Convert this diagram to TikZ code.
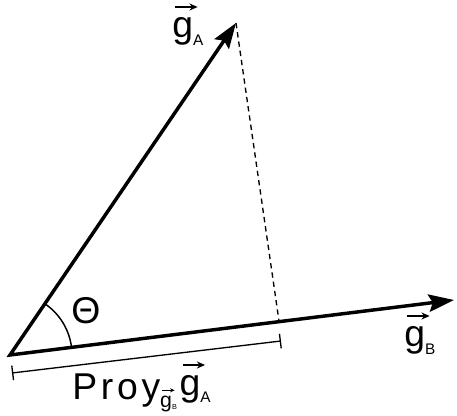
\documentclass[tikz,border=0pt]{standalone}
\usepackage{fontspec}
\setmainfont{Liberation Sans}
\usetikzlibrary{arrows.meta,calc}
\newcommand{\vg}{\leavevmode\rlap{\tikz[overlay,x=1em,y=1em]
  \draw[-{Stealth[length=.22em,width=.19em]},line width=.045em] (.08,.83) -- (.68,.83);}g}
\tikzset{
  vect/.style={{Stealth[length=19pt,width=13pt,inset=3pt]}-{Stealth[length=19pt,width=13pt,inset=3pt]},
               line width=2.6pt},
  proj/.style={line width=1pt,dash pattern=on 4pt off 3pt},
  ang/.style={line width=1.1pt},
  measure/.style={{Bar[width=11pt]}-{Bar[width=11pt]},line width=1pt},
  lbl/.style={inner sep=0pt,font=\fontsize{28}{30}\selectfont},
}
\begin{document}
\begin{tikzpicture}[x=0.75pt,y=0.75pt]
  \useasboundingbox (0,0) rectangle (457,416);
  % --- points
  \coordinate (orig) at (10,61);
  \coordinate (tipA) at (236,393);
  \coordinate (tipB) at (454,116);
  \coordinate (foot) at (279,95);
  \coordinate (mL) at (12,43);
  \coordinate (mR) at (281,75);
  % --- vectors and projection
  \draw[vect] (tipA) -- (orig) -- (tipB);
  \draw[proj] (tipA) -- (foot);
  \draw[ang] ($(orig)+(7.06:62)$) arc[start angle=7.06,end angle=55.75,radius=62];
  \draw[measure] (mL) -- (mR);
  % --- labels
  \node[lbl,anchor=base west] (labA) at (172,378) {\vg\raisebox{-6pt}{\fontsize{11.5}{12}\selectfont A}};
  \node[lbl,anchor=base west] (labB) at (404,69) {\vg\raisebox{-6pt}{\fontsize{11.5}{12}\selectfont B}};
  \node[lbl] (theta) at (86,105.5) {Θ};
  \node[lbl,anchor=base west] (labProy) at (72,16)
    {{\addfontfeature{LetterSpace=10}Proy}\raisebox{-6pt}{\fontsize{16}{16}\selectfont\vg}%
     \raisebox{-7pt}{\fontsize{5.5}{6}\selectfont B}\kern2pt\raisebox{3pt}{\vg}%
     \raisebox{-2pt}{\fontsize{11.5}{12}\selectfont A}};
\end{tikzpicture}
\end{document}
